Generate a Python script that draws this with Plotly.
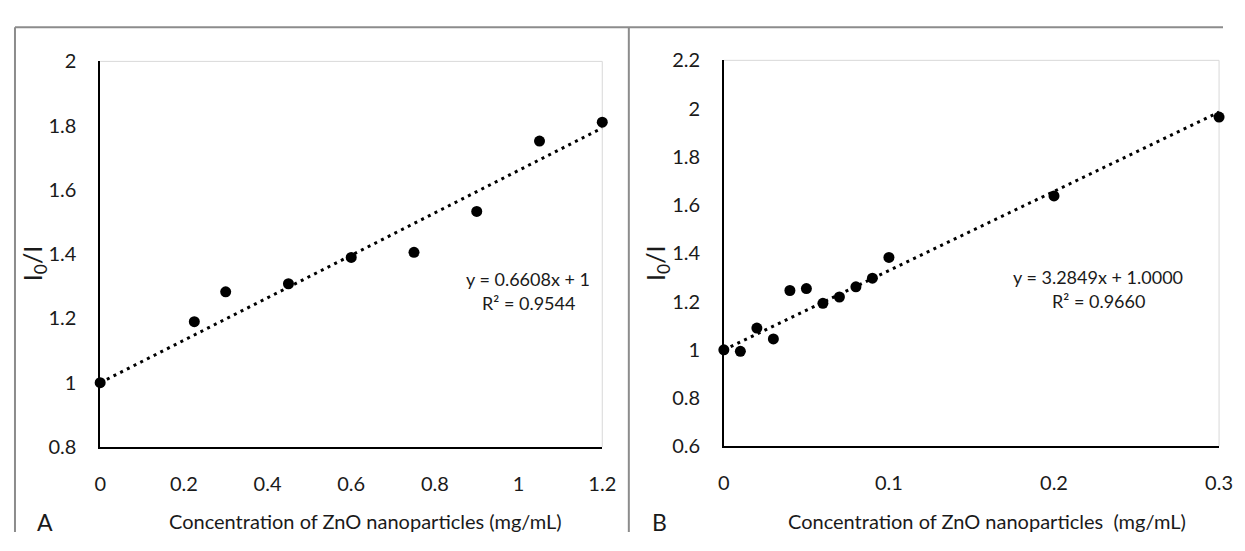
import plotly.graph_objects as go

# ---------------- data ----------------
conc_a = [0, 0.225, 0.3, 0.45, 0.6, 0.75, 0.9, 1.05, 1.2]
ratio_a = [1.0, 1.19, 1.283, 1.308, 1.39, 1.406, 1.533, 1.752, 1.811]
slope_a, intercept_a = 0.6608, 1.0
eq_a = "y = 0.6608x + 1"
r2_a = "R² = 0.9544"

conc_b = [0, 0.01, 0.02, 0.03, 0.04, 0.05, 0.06, 0.07, 0.08, 0.09, 0.1, 0.2, 0.3]
ratio_b = [1.0, 0.994, 1.09, 1.045, 1.246, 1.254, 1.193, 1.219, 1.261, 1.297, 1.383, 1.638, 1.965]
slope_b, intercept_b = 3.2849, 1.0
eq_b = "y = 3.2849x + 1.0000"
r2_b = "R² = 0.9660"

xticks_a = [0, 0.2, 0.4, 0.6, 0.8, 1, 1.2]
yticks_a = [0.8, 1, 1.2, 1.4, 1.6, 1.8, 2]
xticks_b = [0, 0.1, 0.2, 0.3]
yticks_b = [0.6, 0.8, 1, 1.2, 1.4, 1.6, 1.8, 2, 2.2]

xtitle_a = "Concentration of ZnO nanoparticles (mg/mL)"
xtitle_b = "Concentration of ZnO nanoparticles  (mg/mL)"
ytitle = "I<sub>0</sub>/I"

# ---------------- layout helpers ----------------
PAGE_W, PAGE_H = 1245, 551
OFF = 8  # default page body margin
W, H = PAGE_W - 2 * OFF, PAGE_H - 2 * OFF  # figure fits the window exactly
FONT = "Lato"
TXT = "#1a1a1a"


def px(x):
    """page pixel x -> paper fraction"""
    return (x - OFF) / W


def py(y):
    """page pixel y -> paper fraction"""
    return 1 - (y - OFF) / H


fig = go.Figure()

trend_line = dict(color="black", width=3, dash="3px,4.5px")
dot_marker = dict(color="black", size=11)

# panel A
fig.add_trace(go.Scatter(
    x=[0, max(conc_a)],
    y=[intercept_a, intercept_a + slope_a * max(conc_a)],
    mode="lines", line=trend_line,
    xaxis="x", yaxis="y", showlegend=False, hoverinfo="skip"))
fig.add_trace(go.Scatter(
    x=conc_a, y=ratio_a, mode="markers", marker=dot_marker,
    xaxis="x", yaxis="y", showlegend=False, cliponaxis=False))

# panel B
fig.add_trace(go.Scatter(
    x=[0, max(conc_b)],
    y=[intercept_b, intercept_b + slope_b * max(conc_b)],
    mode="lines", line=trend_line,
    xaxis="x2", yaxis="y2", showlegend=False, hoverinfo="skip"))
fig.add_trace(go.Scatter(
    x=conc_b, y=ratio_b, mode="markers", marker=dot_marker,
    xaxis="x2", yaxis="y2", showlegend=False, cliponaxis=False))

tickfont = dict(family=FONT, size=20, color=TXT)
axis_common = dict(showgrid=False, zeroline=False, showline=True,
                   linecolor="black", linewidth=1.5, ticks="",
                   tickfont=tickfont, ticklabelstandoff=18,
                   tickmode="array")

fig.update_layout(
    width=W, height=H,
    margin=dict(l=0, r=0, t=0, b=0),
    paper_bgcolor="white", plot_bgcolor="white",
    xaxis=dict(domain=[px(95.6), px(606)], range=[0, 1.2],
               tickvals=xticks_a, anchor="y", **axis_common),
    yaxis=dict(domain=[py(454), py(50.3)], range=[0.8, 2],
               tickvals=yticks_a, anchor="x", **axis_common),
    xaxis2=dict(domain=[px(729.6), px(1233)], range=[0, 0.3],
                tickvals=xticks_b, anchor="y2", **axis_common),
    yaxis2=dict(domain=[py(453.3), py(49.2)], range=[0.6, 2.2],
                tickvals=yticks_b, anchor="x2", **axis_common),
)

shapes = []
# light plot-area frames (top & right)
for (x0, x1, y0, y1) in [(95.6, 606, 50.3, 454), (729.6, 1233, 49.2, 453.3)]:
    shapes.append(dict(type="line", xref="paper", yref="paper",
                       x0=px(x0), x1=px(x1), y0=py(y0), y1=py(y0),
                       line=dict(color="#d9d9d9", width=1), layer="below"))
    shapes.append(dict(type="line", xref="paper", yref="paper",
                       x0=px(x1), x1=px(x1), y0=py(y0), y1=py(y1),
                       line=dict(color="#d9d9d9", width=1), layer="below"))
# outer panel borders
border = dict(color="#8c8c8c", width=2)
shapes.append(dict(type="line", xref="paper", yref="paper",
                   x0=px(9), x1=1, y0=py(14.5), y1=py(14.5), line=border))
shapes.append(dict(type="line", xref="paper", yref="paper",
                   x0=px(9), x1=px(9), y0=py(14.5), y1=0, line=border))
shapes.append(dict(type="line", xref="paper", yref="paper",
                   x0=px(633), x1=px(633), y0=py(14.5), y1=0, line=border))
fig.update_layout(shapes=shapes)

eqfont = dict(family=FONT, size=18, color=TXT)
titlefont = dict(family=FONT, size=20, color=TXT)
ann = []


def add_text(x, y, text, font, **kw):
    d = dict(x=px(x), y=py(y), xref="paper", yref="paper", text=text,
             showarrow=False, font=font, xanchor="center", yanchor="middle")
    d.update(kw)
    ann.append(d)


# equations
add_text(531, 277.6, eq_a, eqfont)
add_text(531, 303, r2_a, eqfont)
add_text(1110, 276, eq_b, eqfont)
add_text(1110, 301.5, r2_b, eqfont)
# x-axis titles
add_text(365, 532, xtitle_a, titlefont)
add_text(997, 532, xtitle_b, titlefont)
# y-axis titles
yt_font = dict(family=FONT, size=25, color=TXT)
add_text(28, 262, ytitle, yt_font, textangle=-90)
add_text(661, 262, ytitle, yt_font, textangle=-90)
# panel letters
letter_font = dict(family=FONT, size=23, color=TXT)
add_text(40, 533, "A", letter_font)
add_text(664, 533, "B", letter_font)
fig.update_layout(annotations=ann)

fig.write_html("out.html")
